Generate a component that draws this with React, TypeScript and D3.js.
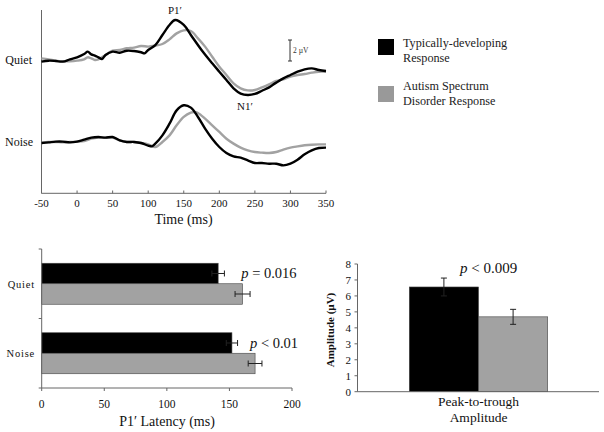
import React from "react";
import * as d3 from "d3";

// ---------- Waveform data (time in ms, amplitude in µV) ----------
const quietTdTimes = [-50,-40,-30,-20,-10,0,10,15,20,25,30,35,40,50,60,70,80,90,95,100,110,120,130,138,150,160,175,190,200,210,220,230,240,250,260,270,280,290,300,310,320,330,340,350];
const quietTdValues = [-0.06,0.03,0,-0.06,0.16,0.35,0.67,0.89,0.63,0.51,0.35,0.19,0.57,0.89,0.79,0.98,0.95,0.83,0.73,1.05,1.52,2.48,3.43,3.9,3.43,2.48,1.05,-0.22,-1.02,-1.81,-2.6,-3.1,-3.24,-3.14,-2.83,-2.51,-2.06,-1.65,-1.33,-1.02,-0.79,-0.7,-0.86,-0.95];

const quietAsdTimes = [-50,-40,-30,-20,-10,0,10,15,20,25,30,40,50,60,70,80,90,100,110,120,130,140,150,160,170,180,190,200,210,220,230,240,250,260,270,280,290,300,310,320,330,340,350];
const quietAsdValues = [0.25,0.16,0.03,-0.03,-0.03,0.03,0.16,0.35,0.25,0.1,0.16,0.57,0.98,1.05,1.21,1.27,1.43,1.37,1.46,1.62,2.06,2.63,2.92,2.86,2.16,1.37,0.41,-0.54,-1.33,-2.13,-2.6,-2.8,-2.76,-2.51,-2.22,-1.9,-1.75,-1.49,-1.33,-1.24,-1.11,-1.02,-1.02];

const noiseTdTimes = [-50,-40,-30,-20,-10,0,10,20,30,40,50,60,70,80,90,100,105,110,120,130,140,150,160,170,180,190,200,210,220,230,240,250,260,270,280,290,300,310,320,330,340,350];
const noiseTdValues = [0,0.06,0.13,0.13,0.06,0.13,0.32,0.51,0.57,0.51,0.57,0.25,0.1,0.1,0,-0.25,-0.32,-0.06,0.73,1.84,3.11,3.59,3.37,2.48,1.37,0.41,-0.38,-0.95,-1.27,-1.4,-1.65,-1.9,-1.9,-1.97,-1.97,-2.13,-1.97,-1.59,-1.08,-0.7,-0.48,-0.44];

const noiseAsdTimes = [-50,-40,-30,-20,-10,0,10,20,30,40,50,60,70,80,90,100,110,120,130,140,150,160,165,170,180,190,200,210,220,230,240,250,260,270,280,290,300,310,320,330,340,350];
const noiseAsdValues = [0,0.1,0.1,0.06,0.1,0.13,0.19,0.41,0.51,0.51,0.51,0.25,0.1,0.1,0,-0.13,-0.38,0.1,0.73,1.68,2.48,2.89,2.95,2.86,2.32,1.68,1.05,0.41,-0.06,-0.44,-0.7,-0.86,-0.92,-0.95,-0.86,-0.63,-0.44,-0.32,-0.22,-0.16,-0.13,-0.13];

const timeTicks = [-50,0,50,100,150,200,250,300,350];

// ---------- Latency bar data ----------
const conditions = ["Quiet","Noise"];
const groups = ["TD","ASD"];
const latencyTd = [141,152];
const latencyTdErr = [5,4.5];
const latencyAsd = [160.5,170.5];
const latencyAsdErr = [6,5.5];
const latencyP = ["= 0.016","< 0.01"];
const latencyTicks = [0,50,100,150,200];

// ---------- Amplitude bar data ----------
const amplitudeValues = [6.56,4.69];
const amplitudeErr = [0.56,0.47];
const amplitudeTicks = [0,1,2,3,4,5,6,7,8];

const legendLabels = [["Typically-developing","Response"],["Autism Spectrum","Disorder Response"]];

const BLACK = "#000";
const GRAY = "#a2a2a2";
const AXIS = "#666";
const FONT = "'Liberation Serif', 'Times New Roman', serif";

export default function App() {
  // ---- top waveform chart ----
  const x = d3.scaleLinear().domain([-50,350]).range([41.5,326]);
  const pxPerUv = 10.5;
  const yQuiet = d3.scaleLinear().domain([-1,1]).range([61+pxPerUv,61-pxPerUv]);
  const yNoise = d3.scaleLinear().domain([-1,1]).range([143+pxPerUv,143-pxPerUv]);
  const mkLine = (ys: d3.ScaleLinear<number,number>, ts: number[], vs: number[]) =>
    d3.line<number>().x((_, i) => x(ts[i])).y(v => ys(v)).curve(d3.curveCatmullRom.alpha(0.5))(vs) || "";

  const waves = [
    { d: mkLine(yQuiet, quietAsdTimes, quietAsdValues), c: GRAY },
    { d: mkLine(yQuiet, quietTdTimes, quietTdValues), c: BLACK },
    { d: mkLine(yNoise, noiseAsdTimes, noiseAsdValues), c: GRAY },
    { d: mkLine(yNoise, noiseTdTimes, noiseTdValues), c: BLACK },
  ];

  // ---- latency chart ----
  const lx = d3.scaleLinear().domain([0,200]).range([41.7,292]);
  const ly = d3.scaleBand<string>().domain(conditions).range([249,388]).paddingInner(0.41).paddingOuter(0.205);
  const lsub = d3.scaleBand<string>().domain(groups).range([0, ly.bandwidth()]);
  const lTdp = ly.step();

  // ---- amplitude chart ----
  const ay = d3.scaleLinear().domain([0,8]).range([391.7,264]);
  const ax = d3.scaleBand<string>().domain(groups).range([409.3,547.7]);

  return (
    <svg width={604} height={432} style={{ position: "absolute", left: 0, top: 0, background: "#fff" }} fontFamily={FONT}>
      <rect width={604} height={432} fill="#fff" />
      {/* ===== Waveforms ===== */}
      <line x1={41.5} x2={41.5} y1={10} y2={193.3} stroke={AXIS} strokeWidth={1} />
      <line x1={41.5} x2={326} y1={193.3} y2={193.3} stroke={AXIS} strokeWidth={1} />
      {timeTicks.map(t => (
        <g key={t}>
          <line x1={x(t)} x2={x(t)} y1={193.3} y2={190.5} stroke={AXIS} />
          <text x={x(t)} y={206.5} fontSize={11} textAnchor="middle" fill="#111">{t}</text>
        </g>
      ))}
      <text x={183.5} y={224} fontSize={14} textAnchor="middle" fill="#111">Time (ms)</text>
      <text x={32} y={64} fontSize={12} textAnchor="end" fill="#111">Quiet</text>
      <text x={33} y={146} fontSize={12} textAnchor="end" fill="#111">Noise</text>
      {waves.map((w, i) => (
        <path key={i} d={w.d} fill="none" stroke={w.c} strokeWidth={2.4} strokeLinejoin="round" />
      ))}
      <text x={175} y={14} fontSize={11} textAnchor="middle" fill="#111">P1′</text>
      <text x={245} y={110} fontSize={11} textAnchor="middle" fill="#111">N1′</text>
      {/* scale bar */}
      <line x1={290} x2={290} y1={yQuiet(2)} y2={yQuiet(0)} stroke="#333" />
      <line x1={288} x2={292} y1={yQuiet(2)} y2={yQuiet(2)} stroke="#333" />
      <line x1={288} x2={292} y1={yQuiet(0)} y2={yQuiet(0)} stroke="#333" />
      <text x={293} y={53} fontSize={7.5} fill="#333">2 µV</text>

      {/* ===== Legend ===== */}
      {legendLabels.map((lines, i) => (
        <g key={i}>
          <rect x={378} y={39 + i * 47} width={16} height={16} fill={i === 0 ? BLACK : "#999"} />
          {lines.map((l, j) => (
            <text key={j} x={403} y={47 + i * 43 + j * 14.5} fontSize={12.2} fill="#222">{l}</text>
          ))}
        </g>
      ))}

      {/* ===== Latency bars ===== */}
      {conditions.map((c, i) => {
        const y0 = ly(c)!;
        const items = [
          { v: latencyTd[i], e: latencyTdErr[i], col: BLACK, g: "TD" },
          { v: latencyAsd[i], e: latencyAsdErr[i], col: GRAY, g: "ASD" },
        ];
        return (
          <g key={c}>
            {items.map(it => {
              const yy = y0 + lsub(it.g)!;
              const h = lsub.bandwidth();
              const cy = yy + h / 2;
              return (
                <g key={it.g}>
                  <rect x={lx(0)} y={yy} width={lx(it.v) - lx(0)} height={h} fill={it.col} stroke="#444" strokeWidth={0.6} />
                  <line x1={lx(it.v - it.e)} x2={lx(it.v + it.e)} y1={cy} y2={cy} stroke="#222" />
                  <line x1={lx(it.v - it.e)} x2={lx(it.v - it.e)} y1={cy - 3} y2={cy + 3} stroke="#222" />
                  <line x1={lx(it.v + it.e)} x2={lx(it.v + it.e)} y1={cy - 3} y2={cy + 3} stroke="#222" />
                </g>
              );
            })}
            <text x={35} y={y0 + ly.bandwidth() / 2 + 4} fontSize={10.5} textAnchor="end" fill="#111" letterSpacing={0.8}>{c}</text>
            <text x={lx(i === 0 ? 159.5 : 166.5)} y={y0 + 15} fontSize={14.5} fill="#111">
              <tspan fontStyle="italic">p</tspan>
              <tspan> {latencyP[i]}</tspan>
            </text>
          </g>
        );
      })}
      <line x1={41.7} x2={41.7} y1={249} y2={388} stroke={AXIS} />
      <line x1={41.7} x2={292} y1={388} y2={388} stroke={AXIS} />
      {[249, 249 + lTdp, 388].map((yy, i) => (
        <line key={i} x1={38.7} x2={41.7} y1={yy} y2={yy} stroke={AXIS} />
      ))}
      {latencyTicks.map(t => (
        <g key={t}>
          <line x1={lx(t)} x2={lx(t)} y1={388} y2={391} stroke={AXIS} />
          <text x={lx(t)} y={408} fontSize={11.5} textAnchor="middle" fill="#111">{t}</text>
        </g>
      ))}
      <text x={167} y={426} fontSize={14} textAnchor="middle" fill="#111">P1′  Latency (ms)</text>

      {/* ===== Amplitude bars ===== */}
      {groups.map((g, i) => {
        const bx = ax(g)!;
        const w = ax.bandwidth();
        const v = amplitudeValues[i];
        const e = amplitudeErr[i];
        const cx = bx + w / 2;
        return (
          <g key={g}>
            <rect x={bx} y={ay(v)} width={w} height={ay(0) - ay(v)} fill={i === 0 ? BLACK : GRAY} stroke="#444" strokeWidth={0.6} />
            <line x1={cx} x2={cx} y1={ay(v + e)} y2={ay(v - e)} stroke="#222" />
            <line x1={cx - 3} x2={cx + 3} y1={ay(v + e)} y2={ay(v + e)} stroke="#222" />
            <line x1={cx - 3} x2={cx + 3} y1={ay(v - e)} y2={ay(v - e)} stroke="#222" />
          </g>
        );
      })}
      <line x1={357.5} x2={357.5} y1={ay(8)} y2={ay(0)} stroke={AXIS} />
      <line x1={357.5} x2={599} y1={ay(0)} y2={ay(0)} stroke={AXIS} />
      {amplitudeTicks.map(t => (
        <g key={t}>
          <line x1={354.5} x2={357.5} y1={ay(t)} y2={ay(t)} stroke={AXIS} />
          <text x={351} y={ay(t) + 3.8} fontSize={11} textAnchor="end" fill="#111">{t}</text>
        </g>
      ))}
      <text transform={`translate(334,330) rotate(-90)`} fontSize={11} fontWeight="bold" textAnchor="middle" fill="#111">Amplitude  (µV)</text>
      <text x={460} y={273} fontSize={15} fill="#111">
        <tspan fontStyle="italic">p</tspan>
        <tspan> {"< 0.009"}</tspan>
      </text>
      <text x={478.5} y={406} fontSize={13.5} textAnchor="middle" fill="#111">Peak-to-trough</text>
      <text x={478.5} y={422} fontSize={13.5} textAnchor="middle" fill="#111">Amplitude</text>
    </svg>
  );
}
